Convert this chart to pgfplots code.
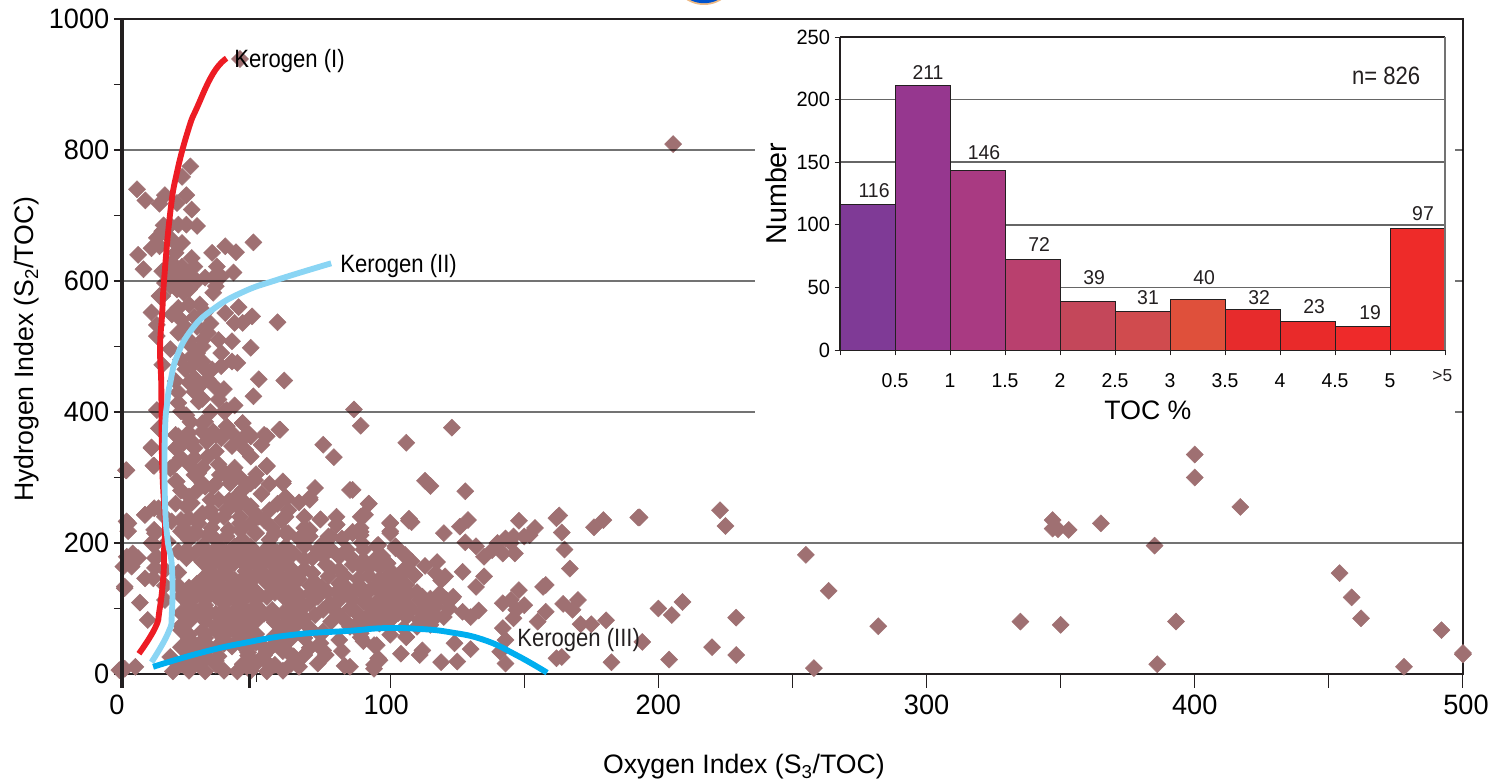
\documentclass[border=0pt]{standalone}
\usepackage{pgfplots}
\pgfplotsset{compat=1.18}
\usepackage{fontspec}
\setmainfont{Liberation Sans}
\newfontfamily\nf[FakeStretch=0.97]{Liberation Sans}
\newfontfamily\kf[FakeStretch=0.88]{Liberation Sans}
\definecolor{pt}{HTML}{9F7072}
\definecolor{dk}{HTML}{231F20}
\definecolor{kI}{HTML}{ED1C24}
\definecolor{kII}{HTML}{8AD5F4}
\definecolor{kIII}{HTML}{00AEEF}
\definecolor{c1}{HTML}{7F3A96}
\definecolor{c2}{HTML}{96378F}
\definecolor{c3}{HTML}{A93A82}
\definecolor{c4}{HTML}{B9406E}
\definecolor{c5}{HTML}{C4475A}
\definecolor{c6}{HTML}{D04B4E}
\definecolor{c7}{HTML}{DF503B}
\definecolor{c8}{HTML}{E72B2C}
\definecolor{c9}{HTML}{E92A2A}
\definecolor{c10}{HTML}{EE2A2A}
\definecolor{c11}{HTML}{EE2B29}
\begin{document}
\begin{tikzpicture}
\useasboundingbox (-91.5pt,-81pt) rectangle (1027.5pt,505.5pt);
% logo fragment at the top edge
\fill[orange!50!brown!55] (436.5pt,526.5pt) circle (24.75pt);
\fill[blue!60!cyan!80!black] (436.5pt,526.5pt) circle (23.4pt);
\begin{axis}[
  at={(0pt,0pt)}, anchor=south west, scale only axis,
  width=1005.75pt, height=491.25pt,
  xmin=0, xmax=500, ymin=0, ymax=1000,
  clip=false, clip mode=individual,
  axis line style={draw=dk, line width=1.6pt},
  xtick={0,50,...,500},
  xticklabels={\hspace*{-7.5pt}0,,\hspace*{-6pt}100,,200,,300,,400,,\hspace*{4.5pt}500},
  ytick={0,100,...,1000},
  yticklabels={0,,200,,400,,600,,800,,1000},
  tick style={draw=dk, line width=0.8pt},
  major tick length=6pt,
  tick align=outside, xtick pos=bottom, ytick pos=left,
  xticklabel style={font=\nf\fontsize{21}{21}\selectfont, yshift=-6pt},
  yticklabel style={font=\nf\fontsize{21}{21}\selectfont},
  xlabel={Oxygen Index (S\textsubscript{3}/TOC)},
  ylabel={Hydrogen Index (S\textsubscript{2}/TOC)},
  x label style={at={(rel axis cs:0.4638,-0.142)}, anchor=center, font=\fontsize{20}{20}\selectfont},
  y label style={at={(rel axis cs:-0.0708,0.496)}, anchor=center, font=\fontsize{20}{20}\selectfont},
]
\addplot[color=pt, only marks, mark=square*, mark size=4.5pt, mark options={rotate=45, fill=pt, draw=none}] coordinates {
(205.5,809)(44,939)
(223,250)(225,226)(255,182)(263.5,127)(209,110)(200,100)(205,90)(229,86)(282,73)(335,80)(350,75)(393,80)
(400,335)(400,300)(417,255)(347,235)(347,222)(349,221)(353,220)(365,230)(385,196)(454,154)(458.5,117)(462,85)
(492,67)(500,32)(500,30)(478,11)(386,15)(258,9)(204,22)(220,41)(229,29)(194,49)(193,239)
(86.5,404)(89,379)(106,353)(123,376)(113,295)(115,287)(128,279)(86,281)(92,260)(90,243)(107,237)(108,232)
(100,230)(100,215)(89,223)(86,217)(89,212)(129,235)(126,225)(120,215)(148,234)(154,223)(152,212)(163,242)(162,238)
(164,216)(176,224)(179.5,235)(192.5,239)(165,190)(167,161)(128,201)(132,195)(135,179)(138,189)(140,200)(143,207)
(146,210)(150,210)(142,184)(146.5,184)(145,200)(117.5,171)(127,156)(135,149)(132,133)(117,154)(119,143)(157,133)
(158,136)(148,128)(145,113)(142,108)(150,105)(147,98)(146,85)(164.5,107)(170,113)(168,98)(158,95)(155,80)(171,76)
(175,76)(180.5,82)(142,70)(143,52)(141,34)(143,16)(182.5,18)(164,26)(162,24)(133,97)(130,87)(124,47)(130,38)(125,19)
(119,18)(112,36)(111,29)(104,31)(106,56)(95.5,24)(94,14)(95,44)(89,56)(85,11)
(102,195)(105.5,182)(99,169)(95.5,197)(104,151)(109,151)(106,159)(101,141)(106,136)(96,164)(92.5,164)(89,164)(89,133)
(92.5,128)(96,128)(100,123)(104,118)(107,123)(111,113)(92.5,103)(97,103)(102,98)(107,103)(112,93)(117,103)(121,113)
(123.5,118)(118.5,123)(116,93)(120,87)(101,87)(106,87)(111,82)(97,82)(91,87)(87.5,93)(94,82)(87.5,77)
(74,236)(80,228)(68,223)(90.6,243)(92,260)(100,231)(100,218)(107,234)(62,215)(70,266)(86,215)(89,217)(82,207)(77,210)(66,207)
(73,190)(68,195)(63,184)(78,190)(81,179)(84,190)(89.4,200)(95,195)(102,192)(105,182)(99,169)(94,174)(90,174)(86,167)(81,159)
(76,167)(71,177)(62,164)(71,154)(77,149)(81,138)(84,131)(87.5,131)(100.6,156)(105,159)(109,151)(104,138)(98,133)(94,133)
(90,123)(86,113)(81,113)(74.5,133)(70,123)(66,118)(62,133)(62,113)(68,103)(73,118)(76.5,126)(77.6,108)(75,98)(78,80)(83,82)
(87.5,93)(92,108)(97,123)(102,123)(112,118)(119,118)(123,115)(120.5,149)(113,103)(108,98)(103,93)(98,98)(94,93)(96,77)(100,82)
(112,87)(117,87)(89,62)(81,52)(106,57)(94,44)(74,47)(75,36)(63,29)(68,29)(66,11)(76,29)(73,16)(83,12.5)(96,21)(94,8)
(5,11)(1,8)(6.7,109)(9.6,82.5)(1,133.5)(3.6,164)(1.8,179)(8.6,146)(12.3,162)(12.3,177)(16,113)(16,135)(16,159)(18,26)
(1.5,311)(11,346)(11.7,318)(18,314)(20,294)(8.5,243)(1.7,233)(2.3,218)(12,253)(12,220)(16,240)(6,177)(4,184)(0.5,164)(1,131)
(-1,6)(11.7,146)(13,179)(11,200)(17,202)(22,235)
(21,363)(25,368)(22,353)(31.5,355)(30,383)(35,365)(38,401)(45,383)(59,373)(39,378)(48,363)(54,363)(46,342)(41,348)(48,332)
(32,332)(75,350)(79,331)(54,318)(60,294)(72,284)(70,269)(85,281)(61,270)(36.5,304)(40,299)(48,291)(45,281)(27,304)(30,291)
(34,286)(25,271)(33,266)(24,256)(43,256)(39,251)(48,251)(51,240)(48,230)(45,223)(59.5,235)(56,223)(74,236)(80,228)(68,223)
(89,240)(61,215)(70,210)(78,210)(33.4,223)(29,240)(22,218)(28,215)(39,210)
(25.5,775)(22.4,759)(5.6,740)(8.7,723)(14,718)(16,731)(24,731)(20.5,719)(26,709)(15.5,685)(21,686)(24,686)(28,684)(18,685)
(13,666)(15,676)(22.4,658)(18.6,663)(11,650)(6,640)(8,618)(14,653)(49,659)(42.5,644)(38.5,653)(33.6,643)(26,635)(35.4,622)
(41.6,613)(31,605)(20,643)(15,615)(18.6,628)(17.4,615)(22.4,622)(25,610)(22,597)(35,592)(37,607)(14,577)(20.5,587)(25,587)
(18,592)(34,605)(16,597)(28,600)(22,608)(20,610)(27,622)(19,600)
(15,577)(11,552)(13,533)(13,516)(15,472)(18,496)(21,559)(25,564)(29,564)(23,582)(34,582)(43.5,560)(48.5,546)(58,537)
(38.5,551)(42,536)(45,536)(18.6,549)(22,541)(21,521)(25,510)(32,521)(36,510)(41,508)(48,498)(41,477)(43,475)(51,450)
(60.5,448)(49,424)(30,500)(26,485)(30,477)(33.6,465)(23.6,465)(27,452)(20,447)(27,431)(35,437)(36,419)(28.6,416)(21,414)
(22,401)(13,403)(39,403)(13.7,375)(45,383)(58.7,373)(53,365)(48,363)(20,365)(25.5,385)(31,385)(39,378)(34,370)(41,368)
(24,365)(30,370)(37,363)(28,530)(33,535)(27,545)(31,552)(24,528)(30,510)(26,470)(28,490)(32,450)(29,440)(21,430)(24,395)
(11,345)(12,318)(1.7,311)(19,317)(20.4,294)(26,355)(23,353)(31.6,355)(37,360)(47,368)(54,317)(60,291)(61.4,268)(28.5,307)
(27,330)(38.4,307)(34.7,289)(40.3,291)(47,289)(49.6,296)(43.4,274)(31,286)(36,266)(48,256)(40,253)(44,230)(49.6,245)(53,235)
(57,215)(61,240)(26,261)(30,245)(25,238)(28.5,230)(13.6,253)(8.6,243)(2.4,230)(12.3,215)(18.5,233)(23,222.5)(34.7,238)
(39.7,220)(44,220)(49.6,215)(32,212)(27,217)(5,179)(12,197)(21,187)
(30,195)(36,196)(42,195)(48,194)(55,196)(61,195)
(27,184)(33,183)(39,185)(45,184)(52,183)(58,185)(64,184)
(30,171)(36,172)(42,170)(49,171)(55,172)(61,170)
(33,158)(39,159)(46,157)(52,158)(58,159)(64,157)(21,155)
(30,145)(36,146)(42,144)(49,145)(55,146)(61,145)
(25,132)(31,133)(38,131)(44,132)(50,120)(57,131)(63,133)(21,135)
(22,119)(28,120)(35,118)(41,119)(47,120)(54,118)(60,119)
(25,106)(31,105)(38,107)(44,106)(50,105)(63,107)
(22,93)(28,94)(35,92)(41,93)(47,94)(53,92)(60,93)
(25,80)(31,81)(38,79)(44,80)(50,81)(57,79)(63,80)
(22,67)(35,66)(41,68)(47,67)(60,68)(30,66)
(25,54)(31,55)(38,53)(44,54)(50,55)(57,53)(63,54)
(22,41)(28,42)(35,40)(41,42)(47,41)(53,40)(60,42)
(25,28)(31,29)(36,27)(47,28)(53,29)(64,27)
(22,15)(28,16)(35,14)(45,15)(50,16)(57,14)(63,15)
(19,4)(25,5)(31,4)(38,5)(43,4)(48,5)(54,4)(60,5)
(24,189)(30,189)(36,190)(43,188)(49,189)(55,190)(61,189)
(24,177)(33,177)(39,178)(46,176)(52,177)(58,178)
(33,165)(40,164)(46,165)(52,166)(59,164)
(33,151)(39,152)(46,150)(52,151)(58,152)(64,151)
(28,138)(34,139)(41,137)(47,138)(54,139)(60,138)
(25,125)(31,126)(38,124)(44,125)(50,126)(57,124)(63,125)
(25,112)(31,113)(38,111)(44,112)(50,113)(63,112)
(25,99)(31,100)(38,98)(44,99)(50,100)(56,98)(63,99)
(25,86)(31,87)(38,85)(44,86)(50,87)(56,85)(63,86)
(35,73)(41,74)(47,72)(60,73)(22,74)
(25,60)(31,61)(38,59)(44,60)(50,61)(57,59)(63,60)
(25,47)(31,48)(38,46)(44,47)(50,48)(57,46)
(25,34)(31,35)(47,33)(54,34)(60,35)
(25,21)(31,22)(35,20)(47,21)(53,22)
(68,175)(75,180)(68,160)(66,145)(72,140)(78,160)(83,150)(88,145)(92,150)(96,145)(99,150)(70,135)(65,125)(80,125)(85,120)
(90,110)(95,110)(100,110)(105,110)(70,108)(66,95)(72,90)(80,95)(85,100)(65,75)(70,70)(75,65)(85,72)(90,75)(105,70)(110,72)
(115,75)(68,55)(74,60)(90,50)(100,60)(82,35)(70,40)(110,125)(115,115)(85,180)(97,180)(108,172)(113,165)(122,100)(127,95)
(68,85)(90,190)(75,200)(70,220)(80,240)(68,240)(62,250)(66,262)(55,250)(58,260)(52,275)(55,290)(50,305)(44,300)(36,320)
(30,315)(42,315)(35,340)(27,345)(30,420)(33,400)(42,410)(25,445)(38,435)(31,465)(37,470)(26,500)(37,490)(22,480)(44,355)
(52,350)(22,330)(25,320)(20,345)(40,265)(45,265)(33,250)(20,260)(22,280)(28,280)(55,205)(45,205)(35,205)(25,205)(50,215)
(44,240)(38,240)
};
% grid lines lie over the points
\draw[black, opacity=.55, line width=1.1pt] (axis cs:0,800)--(axis cs:500,800) (axis cs:0,600)--(axis cs:500,600) (axis cs:0,400)--(axis cs:500,400) (axis cs:0,200)--(axis cs:500,200);
\addplot[kI, line width=4.4pt, smooth, tension=.8] coordinates {(6.3,31)(12.3,70)(14,98)(15.4,148)(15.7,190)(16,231)(15,317)(14.7,419)(14.6,450)(14.2,500)(15,552)(15.7,602)(18,705)(20.5,766)(24.8,832)(28,865)(34,917)(39,940)};
\addplot[kII, line width=4.4pt, smooth, tension=.8] coordinates {(11,18)(17.2,62.7)(18.6,93)(18.6,164)(17,205)(16,266)(16,368)(17,419)(18,445)(20.5,485)(26,526)(34,557)(45,583)(58,602)(78,627)};
\addplot[kIII, line width=4.4pt, smooth, tension=.8] coordinates {(11.6,11)(29,32)(45,47)(64,60)(85,66)(97.5,70)(110,69)(122,64)(135,52)(147,29)(158.5,2)};
\node[anchor=west, inner sep=0pt, font=\kf\fontsize{18.8}{20}\selectfont] at (axis cs:41.8,936) {Kerogen (I)};
\node[anchor=west, inner sep=0pt, font=\kf\fontsize{18.8}{20}\selectfont] at (axis cs:81.3,623) {Kerogen (II)};
\node[anchor=west, inner sep=0pt, font=\kf\fontsize{18.8}{20}\selectfont, text=dk] at (axis cs:147.3,52) {Kerogen (III)};
\fill[white] (axis cs:236,375.6) rectangle (axis cs:497,997);
\draw[dk, line width=2.6pt] (axis cs:0,1000)--(axis cs:0,-21);
\draw[dk, line width=2.4pt] (axis cs:47.5,0)--(axis cs:47.5,-21);
\foreach \x in {100,150,...,500}{\edef\tmp{\noexpand\draw[dk, line width=.8pt] (axis cs:\x,0)--(axis cs:\x,-21);}\tmp}
\end{axis}
\begin{axis}[
  at={(538.5pt,243pt)}, anchor=south west, scale only axis,
  width=453.75pt, height=234.75pt,
  xmin=0, xmax=11, ymin=0, ymax=250,
  clip=false,
  axis y line=left, axis x line=bottom,
  axis line style={draw=dk, line width=0.9pt, -},
  xtick={0,...,11},
  xticklabels={,0.5,1,1.5,2,2.5,3,3.5,4,4.5,5,},
  ytick={0,50,...,250},
  yticklabels={0,50,100,150,200,250},
  ymajorgrids, major grid style={draw=black!60, line width=1.1pt},
  tick style={draw=dk, line width=0.7pt},
  major tick length=4pt,
  tick align=outside,
  xticklabel style={font=\nf\fontsize{15}{15}\selectfont, yshift=-10pt},
  yticklabel style={font=\nf\fontsize{15.5}{15.5}\selectfont},
  xlabel={TOC \%},
  ylabel={Number},
  x label style={at={(rel axis cs:0.509,-0.192)}, anchor=center, font=\fontsize{20}{20}\selectfont},
  y label style={at={(rel axis cs:-0.106,0.5)}, anchor=center, font=\fontsize{21.5}{21.5}\selectfont},
  ybar, bar width=41.25pt, bar shift=0pt,
]
\addplot[fill=c1,draw=dk,line width=.7pt] coordinates {(0.5,116)};
\addplot[fill=c2,draw=dk,line width=.7pt] coordinates {(1.5,211)};
\addplot[fill=c3,draw=dk,line width=.7pt] coordinates {(2.5,143)};
\addplot[fill=c4,draw=dk,line width=.7pt] coordinates {(3.5,72)};
\addplot[fill=c5,draw=dk,line width=.7pt] coordinates {(4.5,39)};
\addplot[fill=c6,draw=dk,line width=.7pt] coordinates {(5.5,31)};
\addplot[fill=c7,draw=dk,line width=.7pt] coordinates {(6.5,40)};
\addplot[fill=c8,draw=dk,line width=.7pt] coordinates {(7.5,32)};
\addplot[fill=c9,draw=dk,line width=.7pt] coordinates {(8.5,23)};
\addplot[fill=c10,draw=dk,line width=.7pt] coordinates {(9.5,19)};
\addplot[fill=c11,draw=dk,line width=.7pt] coordinates {(10.5,97)};
\draw[dk, line width=.9pt] (axis cs:0,250)--(axis cs:11,250);
\draw[black!55, line width=1pt] (axis cs:11,0)--(axis cs:11,250);
\foreach \x/\y/\t in {.62/127/116,1.6/222/211,2.62/157.5/146,3.62/84/72,4.62/57.5/39,5.6/42/31,6.62/58/40,7.62/42/32,8.62/35/23,9.64/30/19,10.6/109/97}{
  \edef\tmp{\noexpand\node[inner sep=0pt,font=\noexpand\nf\noexpand\fontsize{15}{15}\noexpand\selectfont,text=dk] at (axis cs:\x,\y) {\t};}\tmp
}
\node[inner sep=0pt,font=\fontsize{13}{13}\selectfont, text=dk] at (axis cs:10.95,-20.5) {>5};
\node[inner sep=0pt,font=\kf\fontsize{18.8}{19}\selectfont, text=dk] at (axis cs:9.93,219) {n= 826};
\end{axis}
\end{tikzpicture}
\end{document}
